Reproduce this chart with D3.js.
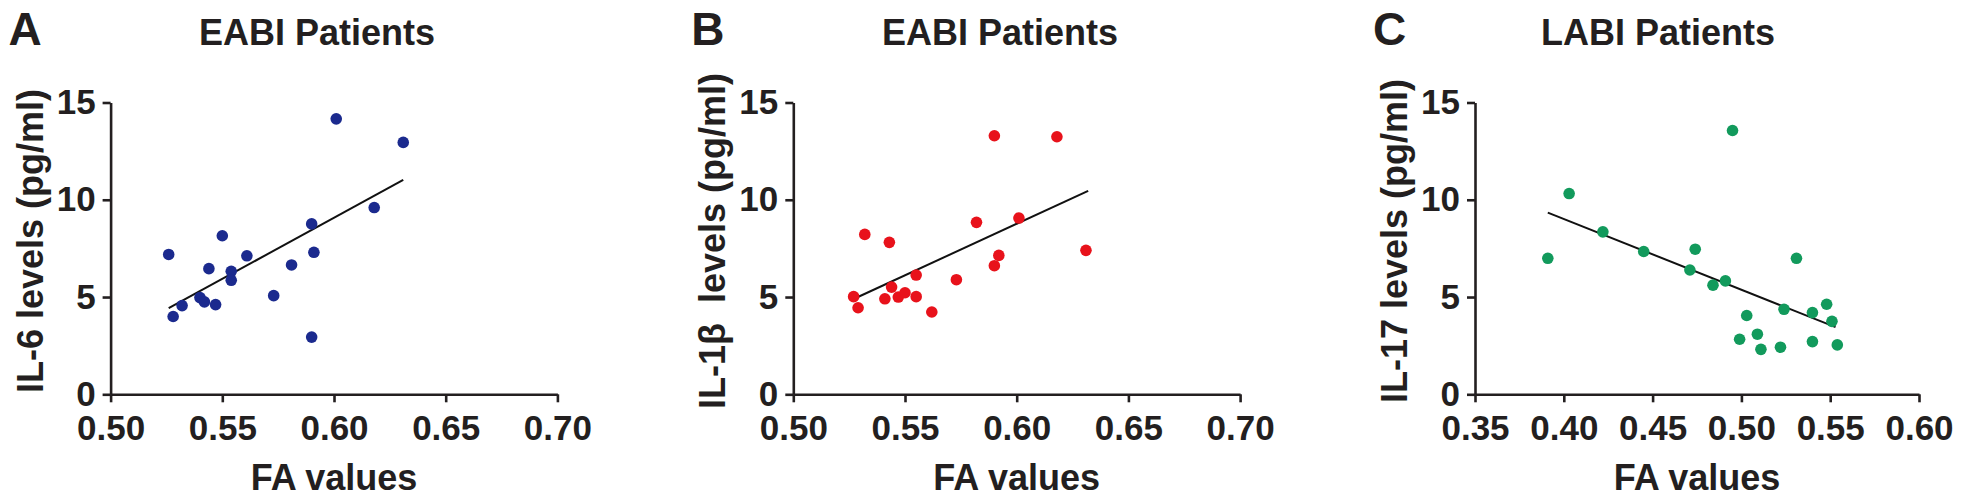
<!DOCTYPE html>
<html>
<head>
<meta charset="utf-8">
<script src="https://cdn.jsdelivr.net/npm/d3@7"></script>
<style>
  html, body { margin: 0; padding: 0; background: #fff; }
  svg text { font-family: "Liberation Sans", Arial, sans-serif; font-weight: bold; fill: #231f20; }
</style>
</head>
<body>
<div id="chart"></div>
<script>
// panel A - EABI, IL-6
const faA = [0.526, 0.528, 0.532, 0.540, 0.542, 0.544, 0.547, 0.550, 0.554, 0.554,
  0.561, 0.573, 0.581, 0.590, 0.591, 0.590, 0.601, 0.618, 0.631];
const il6 = [7.19, 4.00, 4.56, 4.97, 4.75, 6.46, 4.61, 8.15, 6.32, 5.86,
  7.12, 5.07, 6.65, 8.76, 7.30, 2.94, 14.16, 9.60, 12.95];
const fitA = [[0.526, 4.43], [0.631, 11.02]];

// panel B - EABI, IL-1β
const faB = [0.527, 0.529, 0.532, 0.541, 0.543, 0.544, 0.547, 0.550, 0.555, 0.555,
  0.562, 0.573, 0.582, 0.590, 0.592, 0.590, 0.601, 0.618, 0.631];
const il1b = [5.02, 4.45, 8.22, 4.91, 7.81, 5.51, 5.00, 5.22, 5.02, 6.13,
  4.23, 5.89, 8.84, 13.29, 7.14, 6.61, 9.06, 13.24, 7.40];
const fitB = [[0.527, 4.90], [0.632, 10.46]];

// panel C - LABI, IL-17
const faC = [0.391, 0.403, 0.422, 0.445, 0.471, 0.474, 0.484, 0.491, 0.495, 0.499,
  0.503, 0.509, 0.511, 0.522, 0.524, 0.531, 0.540, 0.540, 0.548, 0.551, 0.554];
const il17 = [6.99, 10.32, 8.35, 7.34, 6.39, 7.46, 5.61, 5.83, 13.56, 2.83,
  4.05, 3.09, 2.31, 2.42, 4.37, 6.99, 4.20, 2.71, 4.63, 3.75, 2.54];
const fitC = [[0.391, 9.34], [0.553, 3.45]];

const yTicks = [0, 5, 10, 15];
const xTicksAB = [0.50, 0.55, 0.60, 0.65, 0.70];
const xTicksC = [0.35, 0.40, 0.45, 0.50, 0.55, 0.60];

const panels = [
  { letter: "A", title: "EABI Patients", yLabel: "IL-6 levels (pg/ml)", xs: faA, ys: il6, fit: fitA,
    color: "#1b2a8e", xTicks: xTicksAB, left: 110.6, width: 446.8, titleX: 317 },
  { letter: "B", title: "EABI Patients", yLabel: "IL-1\u03b2  levels (pg/ml)", xs: faB, ys: il1b, fit: fitB,
    color: "#e8121b", xTicks: xTicksAB, left: 793.3, width: 446.8, titleX: 1000 },
  { letter: "C", title: "LABI Patients", yLabel: "IL-17 levels (pg/ml)", xs: faC, ys: il17, fit: fitC,
    color: "#129a5c", xTicks: xTicksC, left: 1475, width: 444, titleX: 1658 }
];

const W = 1965, H = 503;
const plotTop = 102.5, plotBottom = 394.3;

const svg = d3.select("#chart").append("svg")
  .attr("width", W)
  .attr("height", H);

const yScale = d3.scaleLinear().domain([0, 15]).range([plotBottom, plotTop]);

panels.forEach(p => {
  const g = svg.append("g");
  const xScale = d3.scaleLinear()
    .domain(d3.extent(p.xTicks))
    .range([p.left, p.left + p.width]);

  // axes
  const yAxis = g.append("g")
    .attr("transform", `translate(${p.left},0)`)
    .call(d3.axisLeft(yScale).tickValues(yTicks).tickSize(8).tickPadding(7).tickSizeOuter(0));

  const xAxis = g.append("g")
    .attr("transform", `translate(0,${plotBottom})`)
    .call(d3.axisBottom(xScale).tickValues(p.xTicks).tickFormat(d3.format(".2f"))
      .tickSize(8).tickPadding(13).tickSizeOuter(0));

  [yAxis, xAxis].forEach(a => {
    a.select(".domain").attr("stroke", "#231f20").attr("stroke-width", 2.6);
    a.selectAll(".tick line").attr("stroke", "#231f20").attr("stroke-width", 2.6);
    a.selectAll(".tick text").style("font-size", "35px").attr("fill", "#231f20");
  });

  // regression line
  g.append("line")
    .attr("x1", xScale(p.fit[0][0]))
    .attr("y1", yScale(p.fit[0][1]))
    .attr("x2", xScale(p.fit[1][0]))
    .attr("y2", yScale(p.fit[1][1]))
    .attr("stroke", "#111")
    .attr("stroke-width", 2);

  // points
  g.selectAll(".dot")
    .data(p.xs.map((x, i) => ({ x: x, y: p.ys[i] })))
    .enter()
    .append("circle")
    .attr("class", "dot")
    .attr("cx", d => xScale(d.x))
    .attr("cy", d => yScale(d.y))
    .attr("r", 5.8)
    .attr("fill", p.color);

  // texts
  g.append("text")
    .attr("x", p.left - 102)
    .attr("y", 45)
    .style("font-size", "46px")
    .text(p.letter);

  g.append("text")
    .attr("x", p.titleX)
    .attr("y", 44.5)
    .attr("text-anchor", "middle")
    .style("font-size", "36px")
    .text(p.title);

  g.append("text")
    .attr("x", p.left + p.width / 2)
    .attr("y", 490)
    .attr("text-anchor", "middle")
    .style("font-size", "36px")
    .text("FA values");

  g.append("text")
    .attr("transform", `translate(${p.left - 68},241) rotate(-90)`)
    .attr("text-anchor", "middle")
    .style("font-size", "36px")
    .style("white-space", "pre")
    .text(p.yLabel);
});
</script>
</body>
</html>
